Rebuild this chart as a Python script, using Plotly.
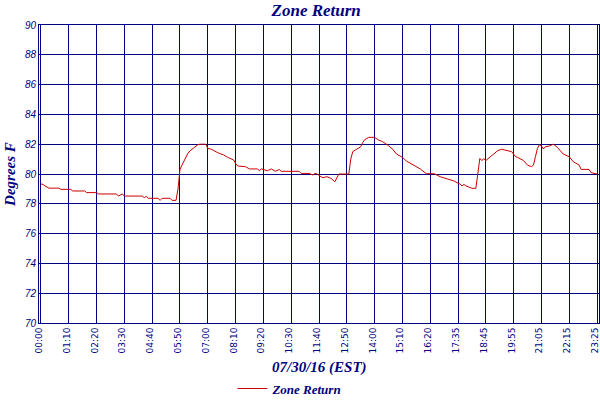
import plotly.graph_objects as go

# sample index (5-minute samples) and zone return temperature (deg F)
sample_index = [0, 1, 2, 4, 9, 10, 15, 16, 22, 23, 28, 29, 38, 39, 41, 42, 51, 52, 53, 54,
                59, 60, 61, 65, 66, 68, 69, 70, 71, 72, 73, 74, 75, 77, 79, 80, 83, 84, 86, 89,
                92, 94, 97, 98, 99, 103, 105, 109, 110, 111, 114, 116, 118, 120, 121, 130, 131, 135, 137, 138,
                139, 141, 142, 144, 146, 148, 150, 155, 156, 157, 159, 161, 162, 163, 165, 168, 170, 172, 175, 177,
                179, 182, 184, 188, 191, 194, 198, 201, 204, 208, 210, 211, 212, 213, 214, 216, 217, 219, 220, 221,
                222, 223, 224, 226, 228, 230, 232, 234, 235, 237, 239, 240, 243, 245, 247, 248, 249, 250, 251, 252,
                253, 254, 256, 258, 260, 261, 263, 266, 268, 271, 272, 276, 277, 280]
temperature_f = [79.33, 79.3, 79.2, 79.05, 79.05, 78.97, 78.97, 78.86, 78.86, 78.75, 78.75, 78.66, 78.66, 78.52, 78.66, 78.52, 78.52, 78.41, 78.5, 78.37,
                 78.37, 78.23, 78.37, 78.37, 78.23, 78.23, 79.0, 80.3, 80.6, 80.9, 81.1, 81.39, 81.55, 81.79, 81.97, 82.0, 82.0, 81.72, 81.65, 81.43,
                 81.28, 81.12, 80.94, 80.7, 80.54, 80.49, 80.34, 80.34, 80.22, 80.34, 80.22, 80.34, 80.18, 80.3, 80.18, 80.18, 80.04, 80.04, 79.93, 80.04,
                 80.0, 79.82, 79.75, 79.82, 79.71, 79.48, 80.0, 80.0, 81.0, 81.5, 81.68, 81.83, 82.1, 82.3, 82.46, 82.46, 82.28, 82.17, 81.9, 81.68,
                 81.34, 81.12, 80.87, 80.56, 80.34, 80.02, 80.02, 79.82, 79.71, 79.53, 79.38, 79.33, 79.2, 79.3, 79.2, 79.1, 79.04, 79.04, 80.04, 81.05,
                 80.9, 81.03, 80.9, 81.12, 81.34, 81.57, 81.66, 81.6, 81.54, 81.5, 81.16, 81.12, 80.9, 80.6, 80.49, 80.6, 81.16, 81.72, 81.97, 81.88,
                 81.68, 81.83, 81.88, 82.0, 81.79, 81.66, 81.34, 81.16, 80.83, 80.6, 80.31, 80.31, 80.09, 80.0]

tick_positions = [0, 14, 28, 42, 56, 70, 84, 98, 112, 126, 140, 154, 168, 182, 196, 210, 224, 238, 252, 266, 280]
tick_labels = ["00:00", "01:10", "02:20", "03:30", "04:40", "05:50", "07:00", "08:10", "09:20", "10:30",
               "11:40", "12:50", "14:00", "15:10", "16:20", "17:35", "18:45", "19:55", "21:05", "22:15", "23:25"]
y_ticks = [70, 72, 74, 76, 78, 80, 82, 84, 86, 88, 90]

NAVY = "#000080"
RED = "#cc0000"
title_font = dict(family="Liberation Serif", size=15, color=NAVY, style="italic", weight="bold")

fig = go.Figure()
fig.add_trace(go.Scatter(
    x=sample_index, y=temperature_f, mode="lines", name="Zone Return",
    line=dict(color=RED, width=1),
))

fig.update_layout(
    width=600, height=400,
    margin=dict(l=39, r=1, t=25, b=77, autoexpand=False),
    paper_bgcolor="white", plot_bgcolor="white",
    title=dict(text="Zone Return", x=0.495, xanchor="center", xref="paper", y=0.975, yanchor="middle",
               font=dict(family="Liberation Serif", size=17, color=NAVY, style="italic", weight="bold")),
    showlegend=True,
    legend=dict(orientation="h", x=0.448, xanchor="center", xref="paper", y=-0.22, yanchor="middle",
                font=dict(family="Liberation Serif", size=13, color=NAVY, style="italic", weight="bold"),
                itemwidth=30, bgcolor="rgba(0,0,0,0)"),
    xaxis=dict(
        range=[-1, 281], tickmode="array", tickvals=tick_positions, ticktext=tick_labels,
        tickangle=-90, tickfont=dict(family="DejaVu Sans", size=9, color=NAVY),
        ticklabeloverflow="allow", ticklabelshift=-2,
        showgrid=True, gridcolor=NAVY, gridwidth=1, zeroline=False, automargin=False,
        showline=True, linecolor=NAVY, linewidth=1, mirror=True, ticks="", ticklen=0,
    ),
    yaxis=dict(
        range=[70, 90], tickmode="array", tickvals=y_ticks,
        tickfont=dict(family="Liberation Sans", size=10, color=NAVY, style="italic"),
        showgrid=True, gridcolor=NAVY, gridwidth=1, zeroline=False, automargin=False,
        showline=True, linecolor=NAVY, linewidth=1, mirror=True, ticks="", ticklen=0,
    ),
    annotations=[
        dict(text="07/30/16 (EST)", xref="paper", yref="paper", x=0.5, y=-0.15, xanchor="center",
             yanchor="middle", showarrow=False, font=title_font),
        dict(text="Degrees F", xref="paper", yref="paper", x=-0.052, y=0.5, xanchor="center",
             yanchor="middle", textangle=-90, showarrow=False, font=title_font),
    ],
)

fig.write_html("out.html", config={"displayModeBar": False},
               post_script="document.body.style.margin='0';")
